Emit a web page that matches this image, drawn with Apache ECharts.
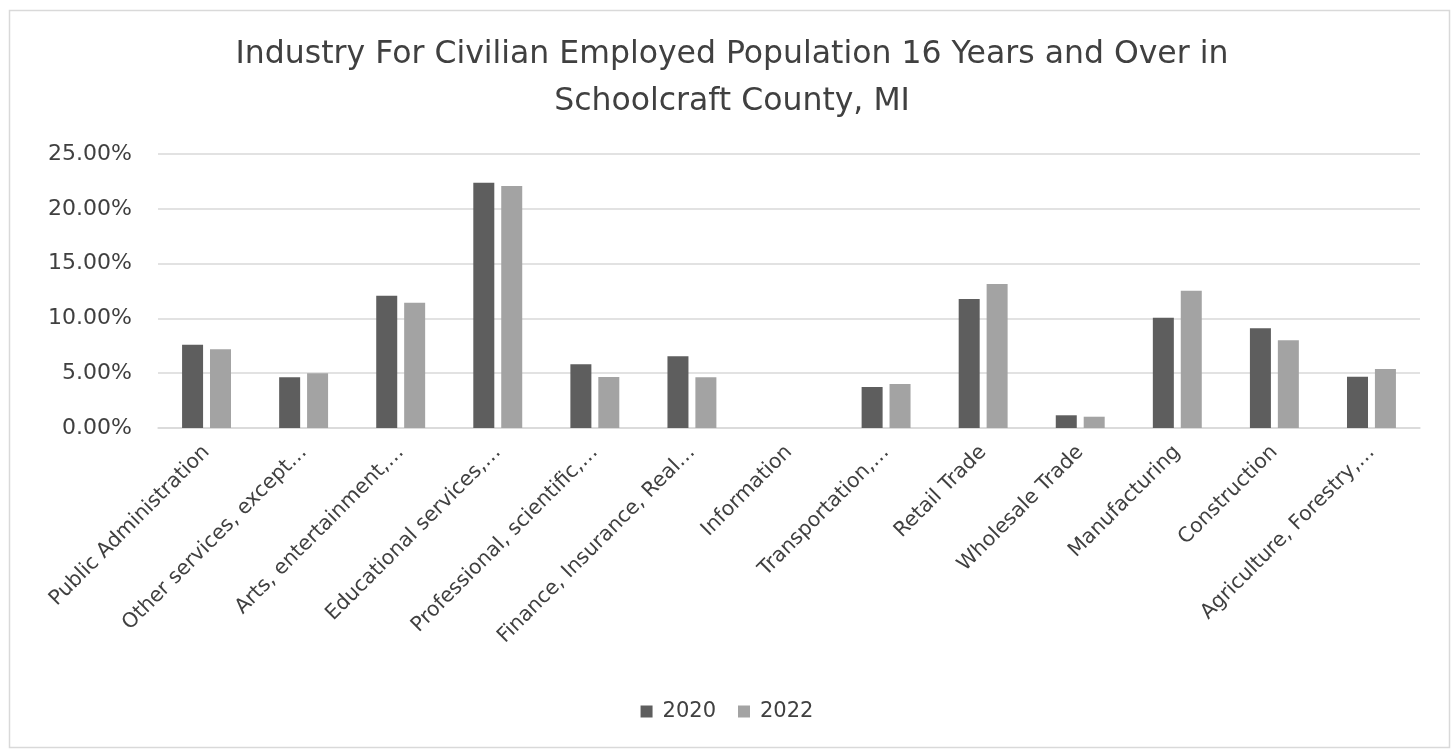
<!DOCTYPE html>
<html>
<head>
<meta charset="utf-8">
<script src="https://cdn.jsdelivr.net/npm/echarts@6/dist/echarts.min.js"></script>
<style>
html,body{margin:0;padding:0;background:#fff;}
#chart{width:1454px;height:749px;}
</style>
</head>
<body>
<div id="chart"></div>
<script>
const titleLines = ["Industry For Civilian Employed Population 16 Years and Over in", "Schoolcraft County, MI"];
const categories = ["Public Administration", "Other services, except…", "Arts, entertainment,…", "Educational services,…", "Professional, scientific,…", "Finance, Insurance, Real…", "Information", "Transportation,…", "Retail Trade", "Wholesale Trade", "Manufacturing", "Construction", "Agriculture, Forestry,…"];
const seriesNames = ["2020", "2022"];
const values2020 = [7.60, 4.62, 12.07, 22.38, 5.81, 6.54, 0, 3.74, 11.77, 1.16, 10.07, 9.09, 4.68];
const values2022 = [7.18, 4.99, 11.43, 22.08, 4.65, 4.62, 0, 4.01, 13.14, 1.03, 12.53, 8.00, 5.38];
const yTicks = [0, 5, 10, 15, 20, 25];

const FONT = "DejaVu Sans";
const chart = echarts.init(document.getElementById('chart'));
chart.setOption({
  animation: false,
  backgroundColor: '#fff',
  textStyle: {fontFamily: FONT},
  graphic: [{
    type: 'rect', left: 7, top: 8, shape: {width: 1440, height: 737},
    style: {fill: 'none', stroke: '#d9d9d9', lineWidth: 1.5}, silent: true
  }],
  title: {
    text: titleLines.join('\n'),
    left: '50%', top: 26, textAlign: 'center',
    textStyle: {fontFamily: FONT, fontSize: 31.5, fontWeight: 'normal', color: '#404040', lineHeight: 47}
  },
  legend: {
    data: seriesNames, bottom: 22, left: 'center',
    itemWidth: 12, itemHeight: 12, itemGap: 22,
    icon: 'rect',
    textStyle: {fontFamily: FONT, fontSize: 21, color: '#404040', padding: [0, 0, 0, 5]}
  },
  grid: {left: 158, right: 34, top: 154, bottom: 321, containLabel: false},
  xAxis: {
    type: 'category', data: categories,
    axisLine: {lineStyle: {color: '#d9d9d9', width: 1.5}},
    axisTick: {show: false},
    axisLabel: {rotate: 45, interval: 0, margin: 21, fontSize: 20.5, color: '#404040', fontFamily: FONT}
  },
  yAxis: {
    type: 'value', min: yTicks[0], max: yTicks[yTicks.length - 1], interval: 5,
    axisLine: {show: false}, axisTick: {show: false},
    splitLine: {lineStyle: {color: '#d9d9d9', width: 1.5}},
    axisLabel: {margin: 26, fontSize: 22, color: '#404040', fontFamily: FONT,
      formatter: v => v.toFixed(2) + '%'}
  },
  series: [
    {name: seriesNames[0], type: 'bar', data: values2020, barWidth: 21, barGap: '33%', itemStyle: {color: '#5e5e5e'}},
    {name: seriesNames[1], type: 'bar', data: values2022, barWidth: 21, barGap: '33%', itemStyle: {color: '#a3a3a3'}}
  ]
});
</script>
</body>
</html>
